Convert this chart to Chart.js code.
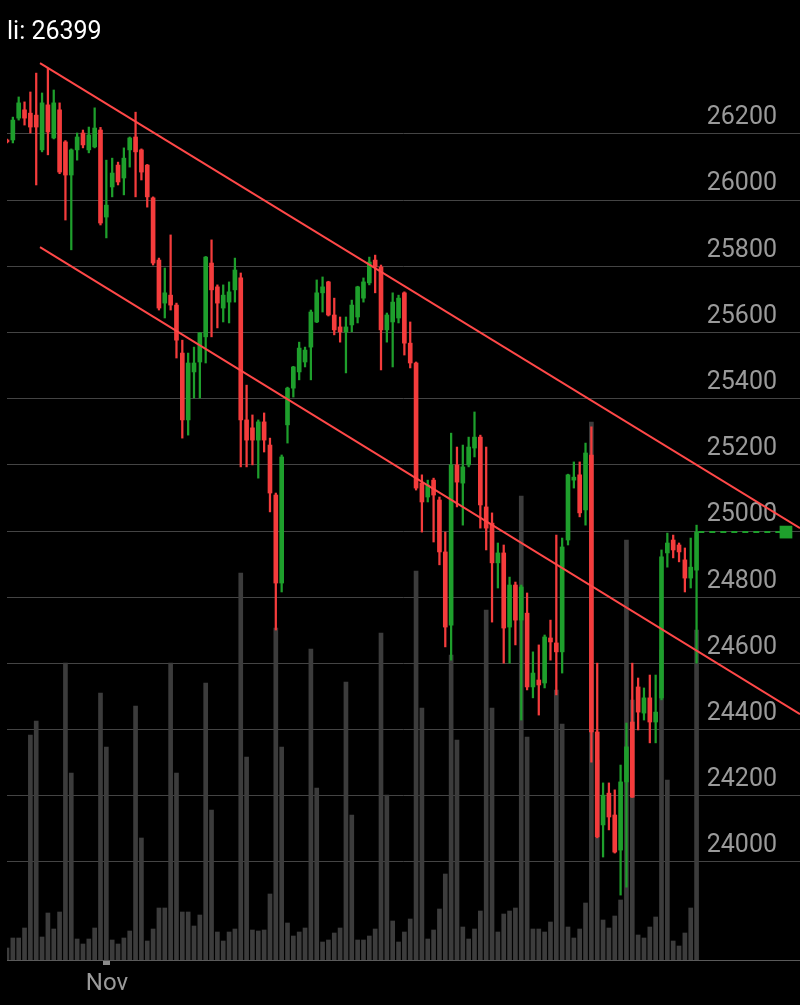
<!DOCTYPE html>
<html>
<head>
<meta charset="utf-8">
<script src="https://cdn.jsdelivr.net/npm/chart.js@4.4.1/dist/chart.umd.min.js"></script>
<style>
  html, body { margin: 0; padding: 0; background: #000; }
  canvas { display: block; }
</style>
</head>
<body>
<canvas id="priceChart" width="800" height="1005"></canvas>
<script>
// candle values, one per bar (index 0 = oldest)
const opens = [
  26182, 26182, 26248, 26273, 26263, 26257, 26152, 26288, 26188, 26273,
  26176, 26076, 26152, 26203, 26152, 26161, 26212, 25949, 26040, 26106,
  26067, 26152, 26191, 26152, 26106, 26007, 25819, 25689, 25713, 25683,
  25538, 25336, 25481, 25511, 25587, 25810, 25738, 25674, 25692, 25729,
  25765, 25336, 25312, 25275, 25330, 25260, 25109, 24843, 25321, 25432,
  25481, 25511, 25556, 25632, 25720, 25753, 25653, 25617, 25602, 25623,
  25647, 25704, 25750, 25819, 25798, 25608, 25632, 25644, 25720, 25568,
  25508, 25145, 25103, 25154, 25094, 24937, 24716, 25200, 25145, 25200,
  25251, 25284, 25073, 25024, 24904, 24934, 24710, 24837, 24731, 24752,
  24529, 24550, 24541, 24677, 24662, 24635, 24973, 25154, 25170, 25064,
  25230, 24393, 24112, 24208, 24142, 24036, 24242, 24423, 24529, 24450,
  24496, 24423, 24496, 24934, 24973, 24958, 24913, 24858, 24882
];
const highs = [
  26185, 26251, 26312, 26297, 26327, 26384, 26324, 26399, 26333, 26294,
  26180, 26155, 26203, 26212, 26221, 26279, 26220, 26121, 26127, 26115,
  26158, 26191, 26266, 26155, 26108, 26010, 25825, 25795, 25895, 25689,
  25577, 25538, 25556, 25600, 25830, 25880, 25744, 25744, 25753, 25825,
  25780, 25441, 25351, 25336, 25357, 25281, 25115, 25230, 25435, 25498,
  25571, 25556, 25668, 25759, 25768, 25755, 25704, 25647, 25647, 25698,
  25740, 25765, 25828, 25834, 25804, 25659, 25720, 25713, 25723, 25632,
  25511, 25170, 25154, 25160, 25103, 24997, 25296, 25254, 25260, 25284,
  25360, 25290, 25254, 25055, 24964, 24958, 24861, 24846, 24837, 24813,
  24635, 24656, 24686, 24731, 24988, 24979, 25172, 25209, 25209, 25266,
  25315, 24601, 24239, 24239, 24218, 24293, 24420, 24601, 24556, 24526,
  24565, 24565, 24943, 24994, 24988, 24964, 24949, 24979, 25018
];
const lows = [
  26173, 26173, 26242, 26227, 26203, 26046, 26146, 26137, 26185, 26080,
  25940, 25850, 26121, 26158, 26143, 26158, 25925, 25886, 26010, 26046,
  26016, 26100, 26010, 26061, 25979, 25804, 25668, 25644, 25668, 25523,
  25281, 25290, 25402, 25402, 25508, 25587, 25614, 25632, 25629, 25692,
  25194, 25194, 25200, 25160, 25239, 25058, 24701, 24816, 25266, 25405,
  25457, 25496, 25457, 25630, 25662, 25650, 25593, 25571, 25478, 25602,
  25629, 25692, 25744, 25720, 25487, 25571, 25496, 25629, 25532, 25493,
  25124, 24997, 25088, 24967, 24898, 24650, 24610, 25073, 25018, 25194,
  25224, 25009, 24943, 24725, 24828, 24601, 24601, 24656, 24429, 24520,
  24496, 24444, 24526, 24610, 24505, 24571, 24958, 25130, 25043, 25018,
  24302, 24073, 24015, 24097, 24027, 23900, 23924, 24195, 24399, 24429,
  24360, 24360, 24490, 24891, 24919, 24907, 24816, 24828, 24601
];
const closes = [
  26176, 26242, 26294, 26248, 26221, 26221, 26294, 26206, 26294, 26085,
  26076, 26152, 26191, 26167, 26197, 26218, 25931, 25985, 26082, 26055,
  26127, 26188, 26146, 26085, 26010, 25810, 25674, 25720, 25683, 25577,
  25336, 25508, 25508, 25599, 25828, 25729, 25689, 25713, 25723, 25789,
  25336, 25275, 25275, 25330, 25275, 25115, 24843, 25224, 25432, 25496,
  25553, 25547, 25662, 25720, 25738, 25653, 25608, 25602, 25617, 25683,
  25738, 25753, 25813, 25798, 25608, 25653, 25692, 25704, 25568, 25508,
  25130, 25088, 25139, 25109, 24937, 24710, 25200, 25148, 25194, 25254,
  25284, 25079, 25009, 24904, 24934, 24707, 24837, 24731, 24831, 24529,
  24571, 24535, 24680, 24665, 24635, 24952, 25170, 25163, 25055, 25236,
  24393, 24076, 24202, 24136, 24030, 24242, 24348, 24196, 24453, 24496,
  24423, 24453, 24922, 24964, 24943, 24937, 24858, 24891, 24997
];
const volumes = [
  120, 220, 220, 320, 2250, 2390, 230, 470, 310, 480,
  2970, 1870, 210, 160, 210, 320, 2670, 2130, 200, 160,
  220, 290, 2540, 1220, 190, 310, 520, 520, 2970, 1870,
  480, 480, 340, 450, 2770, 1500, 280, 190, 280, 310,
  3870, 2030, 300, 290, 300, 660, 3320, 2130, 370, 240,
  280, 320, 3110, 1720, 180, 200, 270, 320, 2780, 1450,
  200, 200, 240, 310, 3270, 1650, 390, 180, 280, 410,
  3890, 2520, 210, 300, 510, 860, 3050, 2200, 330, 210,
  310, 490, 3500, 2520, 280, 460, 490, 520, 4640, 2230,
  310, 310, 280, 380, 2700, 2360, 330, 220, 310, 570,
  5380, 2000, 400, 320, 440, 600, 4200, 2600, 250, 220,
  330, 430, 3100, 1800, 190, 140, 270, 520, 3300
];

// channel lines: [startIndex, startPrice, endIndex, endPrice]
const upperChannel = [5.65, 26414, 135.7, 25009];
const lowerChannel = [5.65, 25858, 135.7, 24447];

const priceTicks = [24000, 24200, 24400, 24600, 24800, 25000, 25200, 25400, 25600, 25800, 26000, 26200];
const monthTickIndex = [17.1];
const monthTickLabels = ['Nov'];
const highLabel = 'li: 26399';

const upColor = '#1e9f2c';
const downColor = '#f43c3c';
const lineColor = '#ff4848';

const idx = opens.map((o, i) => i);
const candleColors = idx.map(i => closes[i] >= opens[i] ? upColor : downColor);
const last = closes[closes.length - 1];

const layoutPadding = { left: 7, right: 0, top: 0, bottom: 8 };

const chart = new Chart(document.getElementById('priceChart'), {
    type: 'bar',
    data: {
        datasets: [{
            label: 'Body',
            data: idx.map(i => ({ x: i, y: [opens[i], closes[i]] })),
            backgroundColor: candleColors,
            barThickness: 4,
            minBarLength: 2,
            grouped: false,
            order: 3
        },
        {
            label: 'Wick',
            data: idx.map(i => ({ x: i, y: [lows[i], highs[i]] })),
            backgroundColor: candleColors,
            barThickness: 1.6,
            grouped: false,
            order: 4
        },
        {
            label: 'Volume',
            data: idx.map(i => ({ x: i, y: volumes[i] })),
            backgroundColor: '#3c3c3c',
            barThickness: 4,
            grouped: false,
            yAxisID: 'y2',
            order: 5
        },
        {
            type: 'line',
            label: 'Upper',
            data: [{ x: upperChannel[0], y: upperChannel[1] }, { x: upperChannel[2], y: upperChannel[3] }],
            borderColor: lineColor,
            borderWidth: 2,
            pointRadius: 0,
            order: 2
        },
        {
            type: 'line',
            label: 'Lower',
            data: [{ x: lowerChannel[0], y: lowerChannel[1] }, { x: lowerChannel[2], y: lowerChannel[3] }],
            borderColor: lineColor,
            borderWidth: 2,
            pointRadius: 0,
            order: 2
        },
        {
            type: 'line',
            label: 'Last',
            data: [{ x: 118.3, y: last }, { x: 133.3, y: last }],
            borderColor: upColor,
            borderWidth: 2,
            borderDash: [6, 5],
            pointRadius: [0, 9],
            pointStyle: 'rect',
            pointBackgroundColor: upColor,
            pointBorderWidth: 0,
            clip: false,
            order: 1
        }]
    },
    options: {
        responsive: false,
        animation: false,
        devicePixelRatio: 1,
        font: { family: 'Roboto' },
        layout: { padding: layoutPadding, autoPadding: false },
        plugins: {
            legend: { display: false },
            tooltip: { enabled: false },
            title: {
                display: true,
                text: highLabel,
                align: 'start',
                color: '#ffffff',
                font: { family: 'Roboto', size: 25, weight: 'normal' },
                padding: { top: 18, bottom: 2 }
            }
        },
        scales: {
            x: {
                type: 'linear',
                min: 0,
                max: 135.7,
                offset: false,
                border: { display: true, color: '#5a5a5a', width: 1 },
                grid: { display: true, offset: false, drawOnChartArea: false, drawTicks: true, tickLength: 5, tickWidth: 7, tickColor: '#8a8a8a' },
                ticks: {
                    color: '#9a9a9a',
                    font: { family: 'Roboto', size: 24 },
                    padding: 5,
                    autoSkip: false,
                    maxRotation: 0,
                    callback: (v, i) => monthTickLabels[i]
                },
                afterBuildTicks: s => { s.ticks = monthTickIndex.map(v => ({ value: v })); },
                afterFit: s => { s.paddingLeft = 0; s.paddingRight = 0; }
            },
            y: {
                type: 'linear',
                position: 'right',
                min: 24000 - 98 * 2200 / 728,
                max: 24000 + 812 * 2200 / 728,
                border: { display: false },
                grid: { color: '#444444', lineWidth: 1, drawTicks: false },
                ticks: {
                    mirror: true,
                    padding: -23,
                    labelOffset: -16,
                    color: '#9a9a9a',
                    font: { family: 'Roboto', size: 25 },
                    autoSkip: false,
                    callback: v => String(v)
                },
                afterBuildTicks: s => { s.ticks = priceTicks.map(v => ({ value: v })); },
                afterFit: s => { s.width = 0; }
            },
            y2: {
                display: false,
                min: 0,
                max: 9100
            }
        }
    }
});

// pin the plot area to the frame of the original screen
const area = chart.chartArea;
layoutPadding.left += 7 - area.left;
layoutPadding.right += area.right - 800;
layoutPadding.top += 50 - area.top;
layoutPadding.bottom += area.bottom - 960;
chart.update();
</script>
</body>
</html>
